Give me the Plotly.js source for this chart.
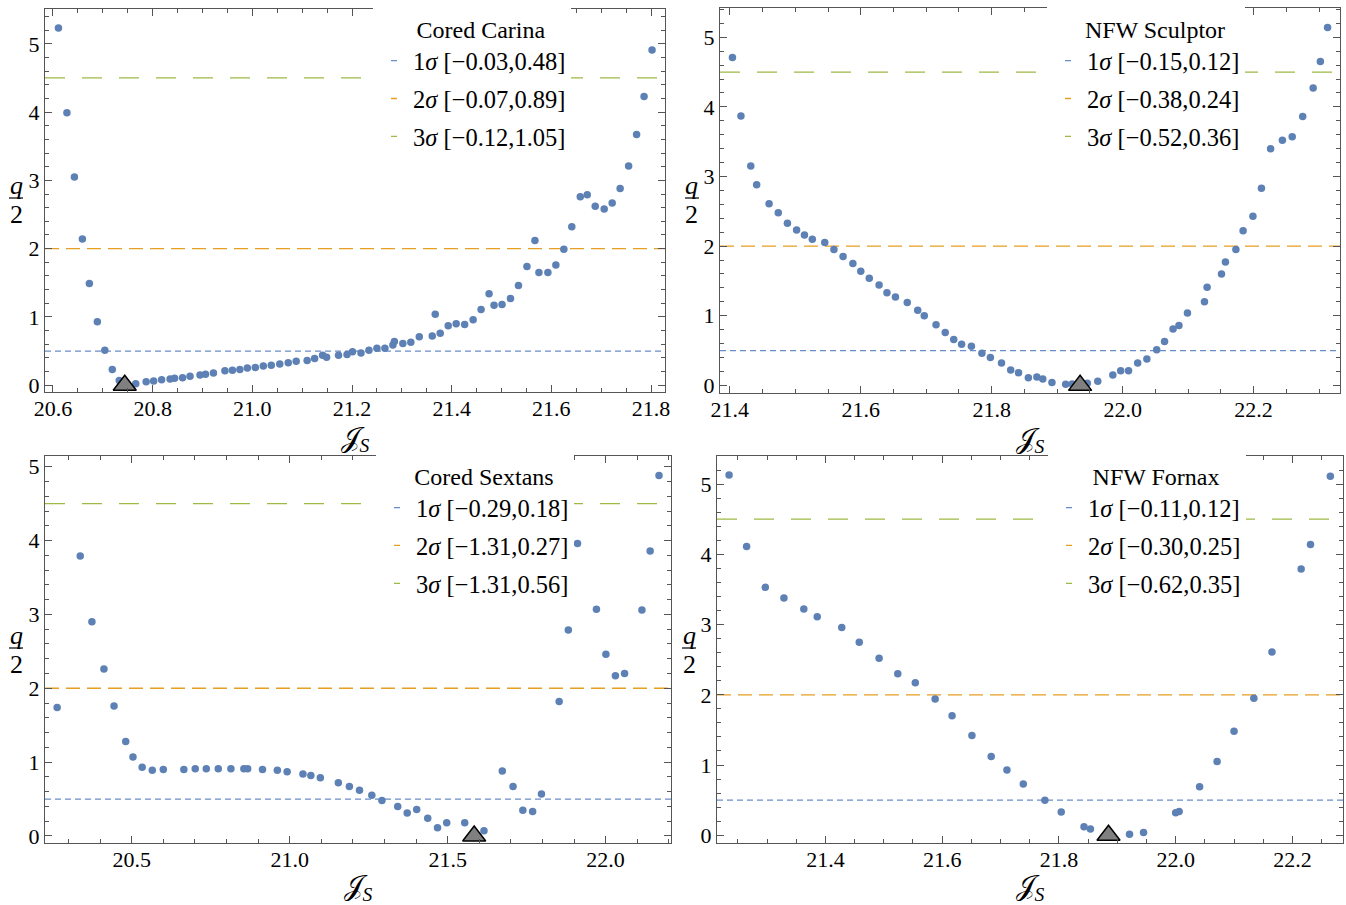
<!DOCTYPE html>
<html><head><meta charset="utf-8">
<script src="https://cdn.plot.ly/plotly-3.0.1.min.js"></script>
<style>html,body{margin:0;padding:0;background:#fff}</style>
</head><body><div id="chart" style="width:1346px;height:905px"></div>
<script>
// ---------- data ----------
const carinaJ = [20.611,20.628,20.643,20.659,20.673,20.689,20.704,20.719,20.733,20.766,20.787,20.802,20.818,20.835,20.844,20.860,20.875,20.895,20.906,20.922,20.945,20.960,20.975,20.990,21.006,21.022,21.038,21.055,21.072,21.088,21.110,21.125,21.141,21.149,21.173,21.190,21.201,21.218,21.234,21.250,21.266,21.282,21.285,21.302,21.318,21.335,21.361,21.367,21.377,21.393,21.409,21.426,21.443,21.459,21.475,21.485,21.501,21.518,21.534,21.551,21.567,21.575,21.593,21.609,21.625,21.641,21.658,21.672,21.688,21.706,21.722,21.738,21.755,21.771,21.786,21.802];
const carinaQ = [5.23,3.99,3.05,2.14,1.49,0.93,0.51,0.23,0.07,0.02,0.05,0.06,0.08,0.09,0.10,0.11,0.13,0.15,0.16,0.18,0.21,0.22,0.23,0.25,0.26,0.28,0.29,0.31,0.33,0.35,0.36,0.39,0.44,0.41,0.44,0.45,0.49,0.47,0.51,0.54,0.54,0.59,0.64,0.61,0.63,0.71,0.72,1.04,0.76,0.87,0.90,0.89,0.96,1.11,1.34,1.17,1.18,1.27,1.46,1.74,2.12,1.65,1.65,1.76,1.99,2.32,2.76,2.79,2.62,2.58,2.67,2.88,3.21,3.67,4.23,4.91];

const sculptorJ = [21.404,21.417,21.432,21.441,21.460,21.474,21.488,21.502,21.514,21.526,21.545,21.559,21.573,21.588,21.600,21.613,21.628,21.640,21.653,21.671,21.687,21.697,21.715,21.729,21.742,21.754,21.769,21.785,21.798,21.815,21.829,21.841,21.856,21.869,21.878,21.892,21.913,21.923,21.946,21.962,21.985,21.997,22.009,22.023,22.037,22.052,22.064,22.077,22.086,22.099,22.125,22.129,22.151,22.157,22.173,22.184,22.199,22.212,22.226,22.244,22.259,22.275,22.291,22.302,22.313];
const sculptorQ = [4.71,3.87,3.15,2.88,2.61,2.48,2.33,2.23,2.16,2.10,2.05,1.95,1.85,1.75,1.64,1.54,1.44,1.33,1.27,1.19,1.08,1.00,0.87,0.76,0.66,0.59,0.56,0.46,0.40,0.32,0.22,0.18,0.11,0.12,0.09,0.04,0.015,0.02,0.03,0.06,0.15,0.21,0.21,0.32,0.38,0.51,0.63,0.81,0.86,1.04,1.20,1.41,1.60,1.77,1.95,2.22,2.43,2.83,3.40,3.52,3.57,3.86,4.27,4.65,5.14];

const sextansJ = [20.264,20.337,20.374,20.412,20.444,20.481,20.504,20.533,20.565,20.600,20.665,20.701,20.736,20.774,20.814,20.855,20.867,20.914,20.961,20.992,21.042,21.067,21.097,21.154,21.189,21.221,21.260,21.292,21.342,21.372,21.402,21.437,21.468,21.497,21.554,21.615,21.673,21.707,21.738,21.769,21.797,21.853,21.882,21.911,21.971,22.001,22.031,22.060,22.115,22.141,22.169];
const sextansQ = [1.74,3.79,2.90,2.26,1.76,1.28,1.07,0.93,0.89,0.90,0.90,0.91,0.91,0.91,0.91,0.91,0.91,0.90,0.89,0.87,0.84,0.82,0.79,0.72,0.67,0.62,0.55,0.48,0.40,0.31,0.36,0.24,0.11,0.18,0.18,0.07,0.88,0.67,0.35,0.33,0.57,1.82,2.79,3.96,3.07,2.46,2.17,2.20,3.06,3.86,4.88];

const fornaxJ = [21.235,21.265,21.297,21.329,21.363,21.386,21.428,21.458,21.492,21.524,21.554,21.588,21.617,21.651,21.684,21.711,21.739,21.776,21.804,21.843,21.854,21.921,21.945,22.000,22.006,22.041,22.071,22.100,22.134,22.165,22.215,22.231,22.265];
const fornaxQ = [5.13,4.11,3.53,3.38,3.22,3.11,2.96,2.75,2.52,2.30,2.17,1.94,1.70,1.42,1.12,0.93,0.73,0.50,0.33,0.12,0.09,0.015,0.04,0.32,0.34,0.69,1.05,1.48,1.95,2.61,3.79,4.14,5.11];

const panelNames = ['Cored Carina','NFW Sculptor','Cored Sextans','NFW Fornax'];
const bestFitJ = [20.744, 21.935, 21.584, 21.885];
const sigmaLevels = ['1','2','3'];
const sigmaThresholds = [0.5, 2, 4.5];
const intervals = [
  ['[\u22120.03,0.48]','[\u22120.07,0.89]','[\u22120.12,1.05]'],
  ['[\u22120.15,0.12]','[\u22120.38,0.24]','[\u22120.52,0.36]'],
  ['[\u22120.29,0.18]','[\u22121.31,0.27]','[\u22121.31,0.56]'],
  ['[\u22120.11,0.12]','[\u22120.30,0.25]','[\u22120.62,0.35]']
];
const xRanges = [[20.584,21.828],[21.385,22.332],[20.2255,22.207],[21.2143,22.2867]];
const yRanges = [[-0.10,5.51],[-0.11,5.42],[-0.095,5.145],[-0.11,5.40]];
const xMajor = [0.2,0.2,0.5,0.2];
const xMinor = [0.05,0.05,0.1,0.05];

// ---------- style ----------
const W = 1346, H = 905;
const frames = [ // left, right, top, bottom in px
  [45,665,9,392],[720,1340,8,393],[45,671,456,843],[717,1343,456,843]
];
const legendPos = [[373,7],[1047,7],[376,454],[1048,454]];
const yTitlePos = [[16,0],[692,0],[16,450],[689,450]];
const pointColor = '#5E81B5';
const sigmaColors = ['#6A8DC8','#E69F22','#9DBA45'];
const sigmaDash = ['6px,4px','14px,7px','20px,17px'];
const serif = 'Liberation Serif';

const xs = [carinaJ, sculptorJ, sextansJ, fornaxJ];
const ys = [carinaQ, sculptorQ, sextansQ, fornaxQ];

const data = [];
const layout = {
  width: W, height: H, margin:{l:0,r:0,t:0,b:0},
  paper_bgcolor:'#fff', plot_bgcolor:'#fff',
  showlegend: true, shapes: [], annotations: [],
  font:{family: serif, color:'#000', size:22}
};

for (let p = 0; p < 4; p++) {
  const sfx = p === 0 ? '' : String(p+1);
  const xa = 'x' + sfx, ya = 'y' + sfx;
  const legId = p === 0 ? 'legend' : 'legend' + (p+1);
  const [l, r, t, b] = frames[p];

  const axCommon = {
    showgrid:false, zeroline:false, showline:true, linecolor:'#555', linewidth:1,
    mirror:'allticks', ticks:'inside', ticklen:7, tickwidth:1, tickcolor:'#555',
    tickfont:{family:serif, size:22, color:'#000'}, automargin:false,
    minor:{ticks:'inside', ticklen:4, tickwidth:1, tickcolor:'#555'}
  };
  layout['xaxis' + sfx] = Object.assign({}, axCommon, {
    domain:[l/W, r/W], anchor: ya, range: xRanges[p],
    tickmode:'linear', tick0: 20, dtick: xMajor[p], tickformat: '.1f', ticklabelstandoff: -3,
    minor: Object.assign({}, axCommon.minor, {dtick: xMinor[p], tick0: 20}),
    title:{text:'\uD835\uDCA5<sub><i>S</i></sub>', font:{family:serif, size:28, color:'#000'}, standoff: 6}
  });
  layout['yaxis' + sfx] = Object.assign({}, axCommon, {
    domain:[1 - b/H, 1 - t/H], anchor: xa, range: yRanges[p],
    tickmode:'linear', tick0: 0, dtick: 1,
    minor: Object.assign({}, axCommon.minor, {dtick: 0.2, tick0: 0})
  });

  // threshold lines
  sigmaThresholds.forEach((th, k) => {
    layout.shapes.push({type:'line', xref: xa + ' domain', x0:0, x1:1, yref: ya, y0: th, y1: th,
      line:{color: sigmaColors[k], width:1.3, dash: sigmaDash[k]}, layer:'below'});
  });

  // data points
  data.push({type:'scatter', mode:'markers', x: xs[p], y: ys[p], xaxis: xa, yaxis: ya,
    marker:{color: pointColor, size: 7.5}, showlegend:false, hoverinfo:'x+y'});
  // best-fit triangle
  data.push({type:'scatter', mode:'markers', x:[bestFitJ[p]], y:[0], xaxis: xa, yaxis: ya,
    marker:{symbol:'triangle-up', size:20, color:'#808080', line:{color:'#000', width:1.5}},
    showlegend:false, cliponaxis:false});

  // legend entries
  sigmaLevels.forEach((s, k) => {
    data.push({type:'scatter', mode:'lines', x:[null], y:[null], xaxis: xa, yaxis: ya,
      name: s + '<i>\u03C3</i> ' + intervals[p][k], legend: legId, legendgroup: legId + 'g' + k,
      line:{color: sigmaColors[k], width:1.3, dash:'0px,13px,6px,40px'}});
  });
  layout[legId] = {
    x: legendPos[p][0]/W, y: 1 - legendPos[p][1]/H, xanchor:'left', yanchor:'top',
    bgcolor:'#fff', borderwidth:0, tracegroupgap:3, itemwidth:30,
    font:{family:serif, size:24.5, color:'#000'},
    title:{text: '\u00A0\u00A0\u00A0' + panelNames[p], side:'top center', font:{family:serif, size:24, color:'#000'}}
  };

  // y-axis title q/2
  const [tx, oy] = yTitlePos[p];
  layout.annotations.push({xref:'paper', yref:'paper', x: tx/W, y: 1 - (oy+185)/H, text:'<i>q</i>',
    showarrow:false, font:{family:serif, size:26, color:'#000'}, xanchor:'center', yanchor:'middle'});
  layout.annotations.push({xref:'paper', yref:'paper', x: tx/W, y: 1 - (oy+214)/H, text:'2',
    showarrow:false, font:{family:serif, size:26, color:'#000'}, xanchor:'center', yanchor:'middle'});
  layout.shapes.push({type:'line', xref:'paper', yref:'paper', x0:(tx-7)/W, x1:(tx+7)/W,
    y0: 1 - (oy+198)/H, y1: 1 - (oy+198)/H, line:{color:'#000', width:1.2}});
}

Plotly.newPlot('chart', data, layout, {displayModeBar:false, staticPlot:true});
</script>
</body></html>
